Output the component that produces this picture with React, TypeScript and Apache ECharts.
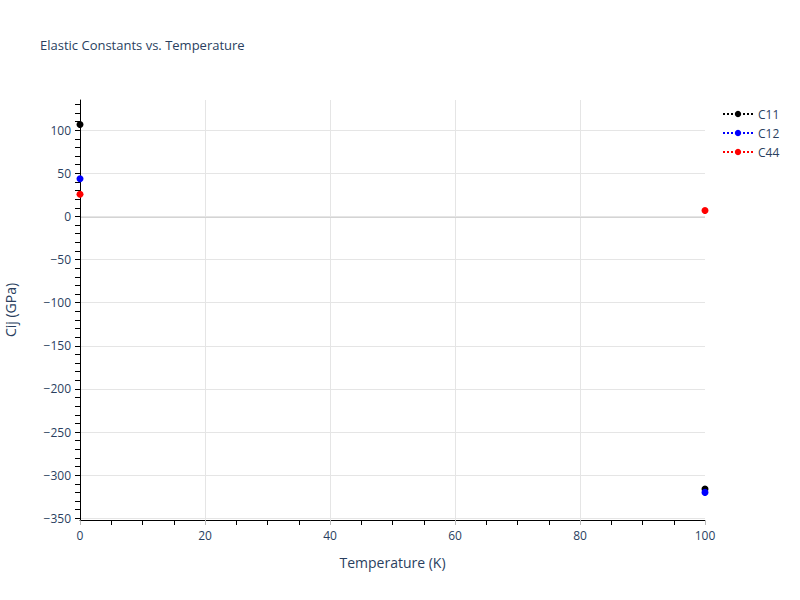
import React, { useEffect, useRef } from "react";
import * as echarts from "echarts";

// Temperatures sampled (K)
const TEMPS = [0, 100];

// Elastic constants (GPa)
const C11 = [106.6, -316];
const C12 = [43.6, -320];
const C44 = [25.8, 6.9];

const SERIES_NAMES = ["C11", "C12", "C44"];
const SERIES_COLORS = ["#000000", "#0000ff", "#ff0000"];

// Axis ticks
const Y_MIN = -352;
const Y_MAX = 135;
const Y_MAJOR = [-350, -300, -250, -200, -150, -100, -50, 0, 50, 100];
const Y_MINOR: number[] = [];
for (let v = -350; v <= 130; v += 10) Y_MINOR.push(v);

const TEXT = "#2a3f5f";
const FONT = '"Open Sans", verdana, arial, sans-serif';

const fmtMinus = (v: number) => (v < 0 ? "\u2212" + Math.abs(v) : String(v));

export default function App() {
  const ref = useRef<HTMLDivElement>(null);

  useEffect(() => {
    if (!ref.current) return;
    const chart = echarts.init(ref.current, undefined, { renderer: "svg" });

    const values = [C11, C12, C44];

    const option: echarts.EChartsOption = {
      animation: false,
      backgroundColor: "#fff",
      textStyle: { fontFamily: FONT },
      title: {
        text: "Elastic Constants vs. Temperature",
        left: 40,
        top: 38,
        padding: 0,
        textStyle: { fontFamily: FONT, fontSize: 13, fontWeight: "normal", color: TEXT },
      },
      legend: {
        orient: "vertical",
        left: 722,
        top: 108,
        padding: 0,
        itemGap: 7,
        itemWidth: 30,
        itemHeight: 8,
        data: SERIES_NAMES,
        textStyle: { fontFamily: FONT, fontSize: 12, color: TEXT },
        lineStyle: { opacity: 1, type: "dotted", width: 2 },
      },
      grid: { left: 80, right: 95, top: 100, bottom: 80, outerBoundsMode: "none" } as any,
      xAxis: {
        type: "value",
        min: 0,
        max: 100,
        interval: 20,
        name: "Temperature (K)",
        nameLocation: "middle",
        nameGap: 35,
        nameTextStyle: { fontFamily: FONT, fontSize: 14, color: TEXT },
        axisLine: { show: true, onZero: false, lineStyle: { color: "#000", width: 1 } },
        axisTick: { show: true, length: 5, lineStyle: { color: "#bbbbbb" } },
        minorTick: { show: true, splitNumber: 4, length: 5, lineStyle: { color: "#000" } },
        axisLabel: { fontFamily: FONT, fontSize: 12, color: TEXT, margin: 9 },
        splitLine: {
          show: true,
          showMinLine: false,
          showMaxLine: false,
          lineStyle: { color: "#e5e5e5", width: 1 },
        },
      },
      yAxis: [
        {
          type: "value",
          min: Y_MIN,
          max: Y_MAX,
          z: 3,
          name: "Cij (GPa)",
          nameLocation: "middle",
          nameGap: 63,
          nameTextStyle: { fontFamily: FONT, fontSize: 14, color: TEXT },
          axisLine: { show: true, onZero: false, lineStyle: { color: "#000", width: 1 } },
          axisTick: { show: false, customValues: Y_MAJOR },
          axisLabel: {
            customValues: Y_MAJOR,
            fontFamily: FONT,
            fontSize: 12,
            color: TEXT,
            margin: 9,
            formatter: (v: number) => fmtMinus(v),
          },
          splitLine: { show: true, lineStyle: { color: "#e5e5e5", width: 1 } },
        },
        {
          type: "value",
          min: Y_MIN,
          max: Y_MAX,
          position: "left",
          z: 3,
          axisLine: { show: false },
          axisTick: { show: true, length: 5, customValues: Y_MINOR, lineStyle: { color: "#000" } },
          axisLabel: { show: false },
          splitLine: { show: false },
        },
      ],
      series: SERIES_NAMES.map((name, i) => ({
        name,
        type: "line" as const,
        yAxisIndex: 0,
        data: TEMPS.map((t, j) => [t, values[i][j]]),
        symbol: "circle",
        symbolSize: 7,
        showSymbol: true,
        clip: false,
        itemStyle: { color: SERIES_COLORS[i] },
        lineStyle: { color: SERIES_COLORS[i], type: "dotted", width: 2, opacity: 0 },
        z: 4 + i,
        markLine:
          i === 0
            ? {
                silent: true,
                symbol: "none",
                label: { show: false },
                lineStyle: { color: "#d4d4d4", width: 2, type: "solid" },
                data: [{ yAxis: 0 }],
                z: 1,
              }
            : undefined,
      })),
    };

    chart.setOption(option);
    return () => chart.dispose();
  }, []);

  return (
    <div
      ref={ref}
      style={{ position: "fixed", left: 0, top: 0, width: 800, height: 600 }}
    />
  );
}
